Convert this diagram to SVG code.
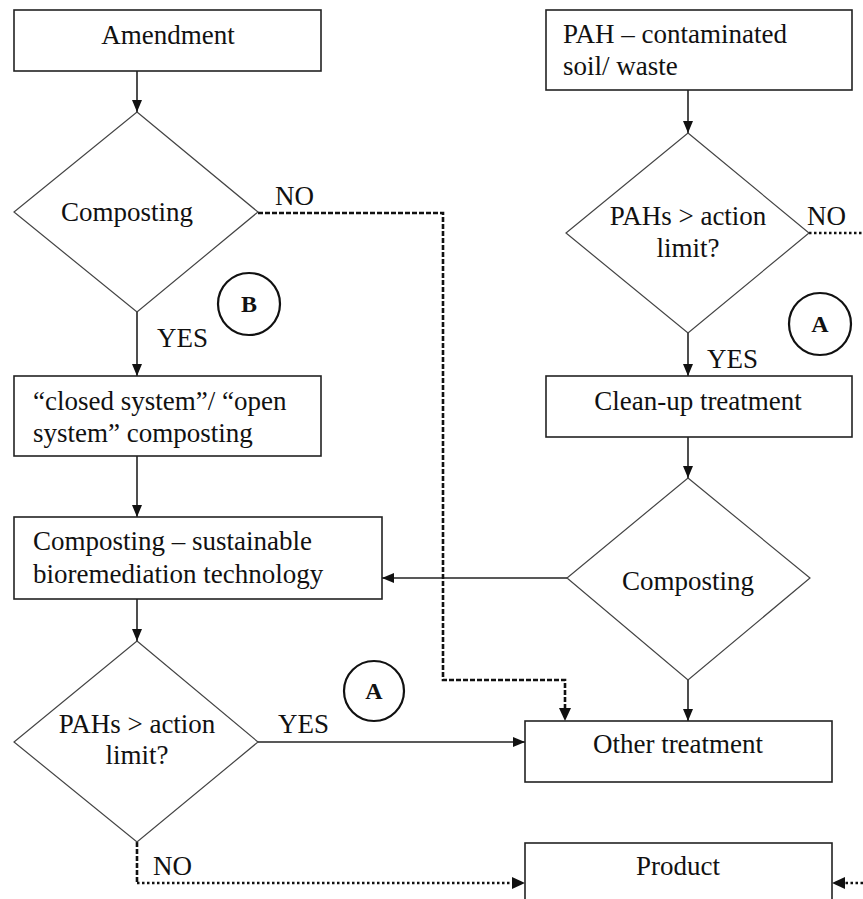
<svg xmlns="http://www.w3.org/2000/svg" width="863" height="899" viewBox="0 0 863 899">
<style>
.box{fill:#fff;stroke:#222;stroke-width:1.6}
.dia{fill:#fff;stroke:#444;stroke-width:1.2}
.circ{fill:#fff;stroke:#111;stroke-width:2.2}
.ln{fill:none;stroke:#222;stroke-width:1.6}
.dash{fill:none;stroke:#111;stroke-width:2.6;stroke-dasharray:5,2}
.dot{fill:none;stroke:#111;stroke-width:2.4;stroke-dasharray:2.5,2.5}
</style>
<defs>
<marker id="ah" markerWidth="12" markerHeight="12" viewBox="0 0 12 12" refX="12" refY="6" orient="auto" markerUnits="userSpaceOnUse">
<path d="M0,1 L12,6 L0,11 Z" fill="#111"/>
</marker>
</defs>
<g id="connectors">
<line class="ln" x1="137" y1="71" x2="137" y2="112" marker-end="url(#ah)"/>
<line class="ln" x1="137" y1="312" x2="137" y2="376" marker-end="url(#ah)"/>
<line class="ln" x1="137" y1="456" x2="137" y2="517" marker-end="url(#ah)"/>
<line class="ln" x1="137" y1="599" x2="137" y2="641" marker-end="url(#ah)"/>
<line class="ln" x1="258" y1="742" x2="525" y2="742" marker-end="url(#ah)"/>
<line class="ln" x1="688" y1="90" x2="688" y2="133" marker-end="url(#ah)"/>
<line class="ln" x1="688" y1="333" x2="688" y2="376" marker-end="url(#ah)"/>
<line class="ln" x1="688" y1="437" x2="688" y2="478" marker-end="url(#ah)"/>
<line class="ln" x1="567" y1="578" x2="382" y2="578" marker-end="url(#ah)"/>
<line class="ln" x1="688" y1="680" x2="688" y2="721" marker-end="url(#ah)"/>
<polyline class="dash" points="258,213 443,213 443,680 565,680 565,708"/>
<path d="M559,708 L571,708 L565,721 Z" fill="#111"/>
<line class="dot" x1="809" y1="233" x2="863" y2="233"/>
<polyline class="dash" points="137,842 137,883"/>
<line class="dot" x1="137" y1="883" x2="512" y2="883"/>
<path d="M512,877 L525,883 L512,889 Z" fill="#111"/>
<line class="dot" x1="863" y1="883" x2="845" y2="883"/>
<path d="M845,877 L832,883 L845,889 Z" fill="#111"/>
</g>
<g font-family="Liberation Serif, Times New Roman, serif" font-size="27" fill="#111">
<g id="amendment">
<rect class="box" x="14" y="10" width="307" height="61"/>
<text text-anchor="middle" x="168" y="44">Amendment</text>
</g>
<g id="composting1">
<polygon class="dia" points="137,112 258,212 137,312 14,212"/>
<text text-anchor="middle" x="127" y="221">Composting</text>
</g>
<g id="lbl-no1"><text x="275" y="205">NO</text></g>
<g id="circleB">
<circle class="circ" cx="249" cy="304" r="31"/>
<text text-anchor="middle" font-weight="bold" font-size="24" x="249" y="312">B</text>
</g>
<g id="lbl-yes1"><text x="157" y="347">YES</text></g>
<g id="closed">
<rect class="box" x="14" y="376" width="307" height="80"/>
<text x="33" y="410">“closed system”/ “open</text>
<text x="33" y="442">system” composting</text>
</g>
<g id="sustainable">
<rect class="box" x="14" y="517" width="368" height="82"/>
<text x="33" y="550">Composting – sustainable</text>
<text x="33" y="583">bioremediation technology</text>
</g>
<g id="pahs2">
<polygon class="dia" points="137,641 258,742 137,842 14,742"/>
<text text-anchor="middle" x="137" y="733">PAHs &gt; action</text>
<text text-anchor="middle" x="137" y="764">limit?</text>
</g>
<g id="lbl-yes2"><text x="278" y="733">YES</text></g>
<g id="circleA2">
<circle class="circ" cx="374" cy="691" r="30"/>
<text text-anchor="middle" font-weight="bold" font-size="24" x="374" y="699">A</text>
</g>
<g id="lbl-no3"><text x="153" y="875">NO</text></g>
<g id="pah">
<rect class="box" x="546" y="10" width="306" height="80"/>
<text x="563" y="43">PAH – contaminated</text>
<text x="563" y="75">soil/ waste</text>
</g>
<g id="pahs1">
<polygon class="dia" points="688,133 809,233 688,333 566,233"/>
<text text-anchor="middle" x="688" y="225">PAHs &gt; action</text>
<text text-anchor="middle" x="688" y="257">limit?</text>
</g>
<g id="lbl-no2"><text x="807" y="225">NO</text></g>
<g id="circleA1">
<circle class="circ" cx="820" cy="324" r="31"/>
<text text-anchor="middle" font-weight="bold" font-size="24" x="820" y="332">A</text>
</g>
<g id="lbl-yes3"><text x="707" y="368">YES</text></g>
<g id="cleanup">
<rect class="box" x="546" y="376" width="306" height="61"/>
<text text-anchor="middle" x="698" y="410">Clean-up treatment</text>
</g>
<g id="composting2">
<polygon class="dia" points="688,478 810,578 688,680 567,578"/>
<text text-anchor="middle" x="688" y="590">Composting</text>
</g>
<g id="other">
<rect class="box" x="525" y="721" width="307" height="61"/>
<text text-anchor="middle" x="678" y="753">Other treatment</text>
</g>
<g id="product">
<rect class="box" x="525" y="843" width="307" height="70"/>
<text text-anchor="middle" x="678" y="875">Product</text>
</g>
</g>
</svg>
